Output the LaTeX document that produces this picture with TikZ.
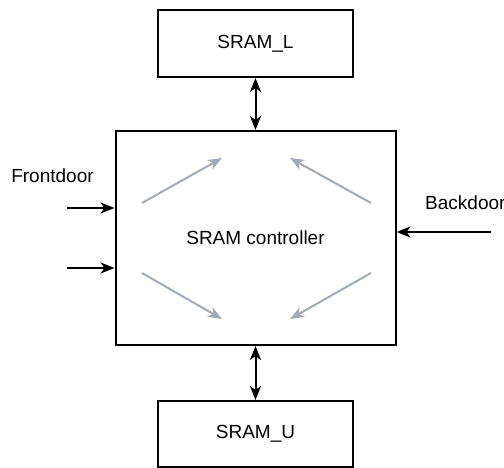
\documentclass[tikz,border=0pt]{standalone}
\usepackage{fontspec}
\setmainfont{Liberation Sans}
\usepackage{tikz}
\usetikzlibrary{arrows.meta, positioning, calc}
\definecolor{arrowgrey}{RGB}{163, 172, 182}
\tikzset{
  blk/.style      = {rectangle, draw=black, line width=2pt, fill=white, align=center, font=\fontsize{19}{23}\selectfont},
  lbl/.style      = {font=\fontsize{19}{23}\selectfont, inner sep=0pt},
  sig/.style      = {-{Stealth[length=14pt, width=11pt, inset=4pt]}, line width=2pt, black},
  bus/.style      = {{Stealth[length=14pt, width=11pt, inset=4pt]}-{Stealth[length=14pt, width=11pt, inset=4pt]}, line width=2pt, black},
  flowgrey/.style = {-{Stealth[length=14pt, width=11pt, inset=4pt]}, line width=2pt, arrowgrey},
}

\begin{document}
\begin{tikzpicture}[x=1pt, y=-1pt]
  \useasboundingbox (0,0) rectangle (504,468);

  \node[blk, minimum width=280pt, minimum height=214pt] (ctrl) at (255.5,238) {SRAM controller};
  \node[blk, minimum width=195pt, minimum height=67pt] (sraml) at (255.5,43.5) {SRAM\_L};
  \node[blk, minimum width=195pt, minimum height=66pt] (sramu) at (255.5,434) {SRAM\_U};

  \draw[bus] (sraml.south) -- (ctrl.north);
  \draw[bus] (ctrl.south) -- (sramu.north);

  % frontdoor inputs
  \node[lbl] (fdtxt) at (52.5,176) {Frontdoor};
  \coordinate (fd1) at (67,208);
  \coordinate (fd2) at (67,268);
  \draw[sig] (fd1) -- (fd1 -| ctrl.west);
  \draw[sig] (fd2) -- (fd2 -| ctrl.west);

  % backdoor input
  \node[lbl, anchor=west] (bdtxt) at (425,203) {Backdoor};
  \coordinate (bd) at (491,232);
  \draw[sig] (bd) -- (bd -| ctrl.east);

  % internal paths
  \draw[flowgrey] (142,203) -- (222,158);
  \draw[flowgrey] (371,203) -- (290,158);
  \draw[flowgrey] (142,273) -- (222,319);
  \draw[flowgrey] (371,273) -- (290,319);
\end{tikzpicture}
\end{document}
